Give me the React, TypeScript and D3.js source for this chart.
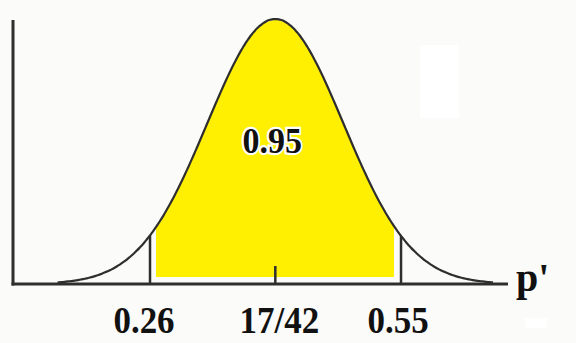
import React from "react";
import * as d3 from "d3";

// Values
const mean = 17 / 42;
const sd = 0.0786;
const bounds = [0.26, 0.55];
const areaLabel = "0.95";
const tickValues = [0.26, 17 / 42, 0.55];
const tickLabels = ["0.26", "17/42", "0.55"];
const axisLabel = "p'";
const xDomain = [0.1017, 0.6736];
const curveSpan = 3.2; // in sd units

const W = 576;
const H = 343;

export default function App() {
  const x = d3.scaleLinear().domain(xDomain).range([13, 508]);
  const pdf = (v: number) => Math.exp(-((v - mean) ** 2) / (2 * sd * sd));
  const y = d3.scaleLinear().domain([0, 1]).range([284, 19]);

  const curveX = d3.range(mean - curveSpan * sd, mean + curveSpan * sd + 1e-9, sd / 40);
  const line = d3
    .line<number>()
    .x((d) => x(d))
    .y((d) => Math.min(y(pdf(d)), 283))
    .curve(d3.curveBasis);

  const fillStart = x.invert(x(bounds[0]) + 6);
  const fillEnd = x.invert(x(bounds[1]) - 7);
  const fillX = d3.range(fillStart, fillEnd, sd / 60).concat([fillEnd]);
  const area = d3
    .area<number>()
    .x((d) => x(d))
    .y0(277)
    .y1((d) => y(pdf(d)) + 1);

  const stroke = "#2e2e2e";
  const font = "'Liberation Serif', 'Times New Roman', serif";

  return (
    <svg
      width={W}
      height={H}
      style={{ position: "absolute", left: 0, top: 0, background: "#fbfbf9" }}
    >
      <rect x={0} y={0} width={W} height={H} fill="#fbfbf9" />
      <rect x={420} y={45} width={39} height={73} fill="#ffffff" />
      <rect x={525} y={318} width={22} height={10} fill="#ffffff" />
      <path d={area(fillX) || ""} fill="#ffef00" />
      {bounds.map((b, i) => (
        <line
          key={i}
          x1={x(b)}
          x2={x(b)}
          y1={284}
          y2={y(pdf(b))}
          stroke={stroke}
          strokeWidth={2.5}
        />
      ))}
      <line x1={x(mean)} x2={x(mean)} y1={266} y2={284} stroke={stroke} strokeWidth={2.5} />
      <path d={line(curveX) || ""} fill="none" stroke={stroke} strokeWidth={2.2} />
      <line x1={13} x2={13} y1={20} y2={285.5} stroke={stroke} strokeWidth={3} />
      <line x1={11.5} x2={508} y1={284} y2={284} stroke={stroke} strokeWidth={3} />
      <g transform="translate(0,153) scale(1,1.08)">
        <text
          x={x(mean) - 3}
          y={0}
          textAnchor="middle"
          fontFamily={font}
          fontWeight="bold"
          fontSize={34}
          fill="#111"
          stroke="#fff"
          strokeWidth={4}
          paintOrder="stroke"
        >
          {areaLabel}
        </text>
      </g>
      <g transform="translate(0,333) scale(1,1.1)">
        {tickValues.map((t, i) => (
          <text
            key={i}
            x={x(t) + (i === 0 ? -6 : i === 1 ? 4 : -3)}
            y={0}
            textAnchor="middle"
            fontFamily={font}
            fontWeight="bold"
            fontSize={35}
            fill="#111"
          >
            {tickLabels[i]}
          </text>
        ))}
      </g>
      <text
        x={516}
        y={291}
        fontFamily={font}
        fontWeight="bold"
        fontSize={40}
        fill="#111"
      >
        {axisLabel}
      </text>
    </svg>
  );
}
